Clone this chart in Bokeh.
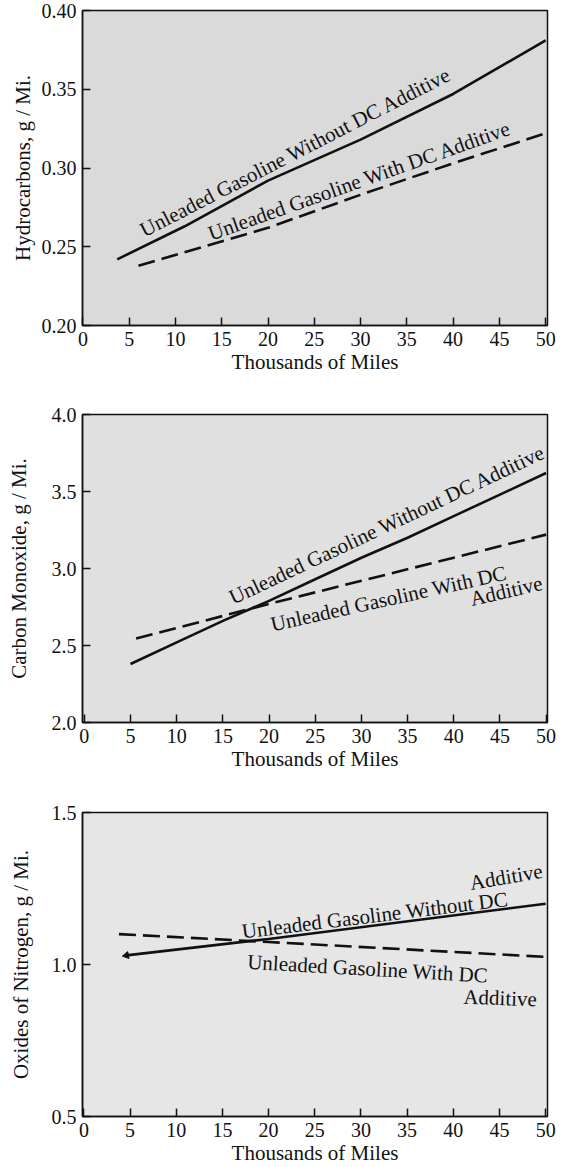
from bokeh.plotting import figure
from bokeh.layouts import column
from bokeh.models import FixedTicker, PrintfTickFormatter, Label, Range1d
from bokeh.embed import file_html
from bokeh.resources import INLINE

# ---------------- data ----------------
x_ticks = [0, 5, 10, 15, 20, 25, 30, 35, 40, 45, 50]

hc_without_x = [3.7, 11, 20, 30, 40, 50]
hc_without_y = [0.242, 0.263, 0.292, 0.318, 0.347, 0.381]
hc_with_x = [6, 20, 30, 40, 50]
hc_with_y = [0.238, 0.262, 0.283, 0.303, 0.322]
hc_yticks = [0.20, 0.25, 0.30, 0.35, 0.40]

co_without_x = [5, 10, 15, 20, 25, 30, 35, 40, 45, 50]
co_without_y = [2.38, 2.52, 2.66, 2.79, 2.93, 3.07, 3.20, 3.34, 3.48, 3.62]
co_with_x = [5.6, 20, 30, 40, 50]
co_with_y = [2.545, 2.77, 2.92, 3.07, 3.22]
co_yticks = [2.0, 2.5, 3.0, 3.5, 4.0]

nox_without_x = [4.6, 20, 50]
nox_without_y = [1.03, 1.084, 1.20]
nox_with_x = [3.8, 20, 50]
nox_with_y = [1.10, 1.074, 1.025]
nox_yticks = [0.5, 1.0, 1.5]

FONT = "Liberation Serif"
INK = "#111111"


def make_fig(height, xr, yr, yticks, yfmt, ylabel, bl, br, bt, bb, fill, ystand):
    p = figure(width=570, height=height, x_range=Range1d(*xr), y_range=Range1d(*yr),
               output_backend="svg", toolbar_location=None,
               min_border_left=bl, min_border_right=br, min_border_top=bt,
               min_border_bottom=bb)
    p.background_fill_color = fill
    p.border_fill_color = "white"
    p.outline_line_color = INK
    p.outline_line_width = 1.5
    p.grid.visible = False
    for ax in (p.xaxis[0], p.yaxis[0]):
        ax.axis_line_color = INK
        ax.axis_line_width = 1.5
        ax.major_tick_in = 8
        ax.major_tick_out = 0
        ax.major_tick_line_color = INK
        ax.major_tick_line_width = 1.5
        ax.minor_tick_line_color = None
        ax.major_label_text_font = FONT
        ax.major_label_text_font_size = "20px"
        ax.major_label_text_color = INK
        ax.axis_label_text_font = FONT
        ax.axis_label_text_font_size = "21px"
        ax.axis_label_text_font_style = "normal"
        ax.axis_label_text_color = INK
    p.xaxis.ticker = FixedTicker(ticks=x_ticks)
    p.xaxis.axis_label = "Thousands of Miles"
    p.xaxis.major_label_standoff = 6
    p.xaxis.axis_label_standoff = 1
    p.yaxis.ticker = FixedTicker(ticks=yticks)
    p.yaxis.formatter = PrintfTickFormatter(format=yfmt)
    p.yaxis.axis_label = ylabel
    p.yaxis.major_label_standoff = 6
    p.yaxis.axis_label_standoff = ystand
    return p


def add_text(p, x, y, s, ang):
    p.add_layout(Label(x=x, y=y, text=s, angle=ang, angle_units="deg",
                       text_font=FONT, text_font_size="21px", text_color=INK,
                       text_align="left", text_baseline="alphabetic"))


# ---------- Panel 1: Hydrocarbons ----------
p1 = make_fig(404, (-0.05, 50.2), (0.20, 0.40), hc_yticks, "%.2f",
              "Hydrocarbons, g / Mi.", 78, 23, 10, 79, "#dadada", 4)
p1.line(hc_without_x, hc_without_y, line_color=INK, line_width=2.6)
p1.line(hc_with_x, hc_with_y, line_color=INK, line_width=2.6, line_dash="17 7")
add_text(p1, 6.3, 0.2598, "Unleaded Gasoline Without DC Additive", 27.2)
add_text(p1, 13.6, 0.258, "Unleaded Gasoline With DC Additive", 19.5)

# ---------- Panel 2: Carbon Monoxide ----------
p2 = make_fig(398, (-0.2, 50.15), (2.0, 4.0), co_yticks, "%.1f",
              "Carbon Monoxide, g / Mi.", 80, 22, 10, 80, "#e0e0e0", 18)
p2.line(co_without_x, co_without_y, line_color=INK, line_width=2.6)
p2.line(co_with_x, co_with_y, line_color=INK, line_width=2.6, line_dash="17 7")
add_text(p2, 15.8, 2.805, "Unleaded Gasoline Without DC Additive", 25.2)
add_text(p2, 20.2, 2.635, "Unleaded Gasoline With DC", 12.5)
add_text(p2, 41.8, 2.80, "Additive", 13)

# ---------- Panel 3: Oxides of Nitrogen ----------
p3 = make_fig(365, (-0.15, 50.2), (0.5, 1.5), nox_yticks, "%.1f",
              "Oxides of Nitrogen, g / Mi.", 82, 20, 10, 45, "#e6e6e6", 16)
p3.line(nox_without_x, nox_without_y, line_color=INK, line_width=2.6)
p3.line(nox_with_x, nox_with_y, line_color=INK, line_width=2.6, line_dash="17 7")
p3.scatter(nox_without_x[:1], nox_without_y[:1], marker="triangle", size=7,
           angle=1.75, fill_color=INK, line_color=INK)
add_text(p3, 17.1, 1.108, "Unleaded Gasoline Without DC", 7)
add_text(p3, 41.8, 1.268, "Additive", 9.5)
add_text(p3, 17.7, 1.009, "Unleaded Gasoline With DC", -3.3)
add_text(p3, 41.1, 0.894, "Additive", -2)

layout = column(p1, p2, p3, spacing=0)
open("out.html", "w").write(file_html(layout, INLINE))
